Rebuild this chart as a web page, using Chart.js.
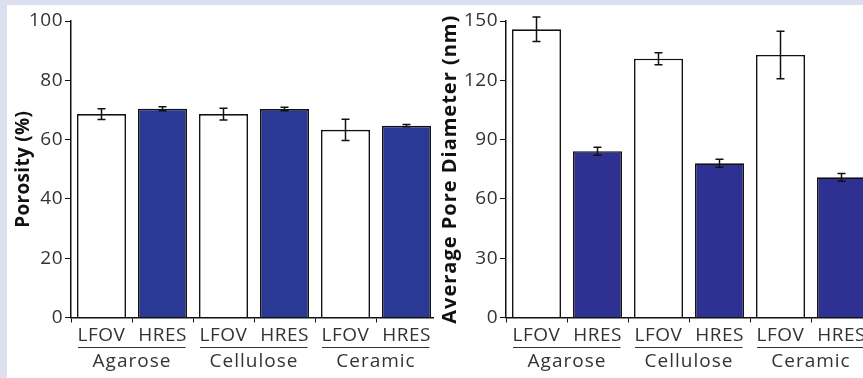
<!DOCTYPE html>
<html>
<head>
<meta charset="utf-8">
<script src="https://cdn.jsdelivr.net/npm/chart.js@4.4.0/dist/chart.umd.min.js"></script>
<style>
  html, body { margin: 0; padding: 0; }
  body { width: 863px; height: 378px; background: #dcdff0; position: relative; overflow: hidden; }
  #sheet { position: absolute; left: 7px; top: 5px; width: 856px; height: 373px; background: #fff; }
  .panel { position: absolute; top: 0; height: 378px; overflow: hidden; }
  .panel canvas { position: absolute; left: 0; top: 0; }
</style>
</head>
<body>
<div id="sheet"></div>
<div class="panel" style="left:0;width:434px"><canvas id="porosityChart" width="440" height="378"></canvas></div>
<div class="panel" style="left:435px;width:428px"><canvas id="diameterChart" width="440" height="378"></canvas></div>
<script>
const labels = ['LFOV', 'HRES', 'LFOV', 'HRES', 'LFOV', 'HRES'];
const groups = ['Agarose', 'Cellulose', 'Ceramic'];

const porosity = [68.6, 70.4, 68.6, 70.3, 63.3, 64.7];
const porosityErr = [1.8, 0.7, 2.0, 0.6, 3.6, 0.4];

const diameter = [145.8, 84.1, 130.9, 78.0, 132.8, 70.9];
const diameterErr = [6.2, 2.0, 3.0, 2.0, 12.0, 2.0];

const fontFamily = '"Open Sans", sans-serif';

// error bars, group underlines and axis title drawn on top of the bars
const extras = {
    id: 'extras',
    beforeDraw(chart) {
        // the original font is a bit wider, space the tick labels a little
        chart.ctx.letterSpacing = '0.5px';
    },
    afterDatasetsDraw(chart, args, opts) {
        const ctx = chart.ctx;
        const x = chart.scales.x;
        const y = chart.scales.y;
        ctx.save();

        // error bars
        ctx.strokeStyle = '#111';
        ctx.lineWidth = 1.5;
        opts.errors.forEach((err, i) => {
            const cx = x.getPixelForValue(i);
            const v = chart.data.datasets[0].data[i];
            const top = y.getPixelForValue(v + err);
            const bot = y.getPixelForValue(v - err);
            ctx.beginPath();
            ctx.moveTo(cx, top); ctx.lineTo(cx, bot);
            ctx.moveTo(cx - 4, top); ctx.lineTo(cx + 4, top);
            ctx.moveTo(cx - 4, bot); ctx.lineTo(cx + 4, bot);
            ctx.stroke();
        });

        // group lines and names
        ctx.strokeStyle = '#333';
        ctx.lineWidth = 1;
        ctx.fillStyle = '#333';
        ctx.font = '19px ' + fontFamily;
        ctx.letterSpacing = '1px';
        ctx.textAlign = 'center';
        ctx.textBaseline = 'middle';
        groups.forEach((g, k) => {
            const x1 = x.getPixelForValue(k * 2);
            const x2 = x.getPixelForValue(k * 2 + 1);
            ctx.beginPath();
            ctx.moveTo(x1 - 23.5, 347.5);
            ctx.lineTo(x2 + 23, 347.5);
            ctx.stroke();
            ctx.fillText(g, (x1 + x2) / 2, 362);
        });

        // y axis title
        ctx.fillStyle = '#111';
        ctx.font = 'bold ' + opts.titleSize + 'px ' + fontFamily;
        ctx.letterSpacing = opts.titleSpacing;
        ctx.translate(opts.titleX, (chart.chartArea.top + chart.chartArea.bottom) / 2);
        ctx.rotate(-Math.PI / 2);
        ctx.fillText(opts.title, 0, 0);
        ctx.restore();
    }
};

function makeChart(id, values, errors, blue, maxY, step, title, titleX, titleSize, titleSpacing) {
    const ctx = document.getElementById(id).getContext('2d');
    return new Chart(ctx, {
        type: 'bar',
        data: {
            labels: labels,
            datasets: [{
                data: values,
                backgroundColor: values.map((v, i) => i % 2 === 0 ? '#ffffff' : blue),
                borderColor: '#111',
                borderWidth: 1.6,
                categoryPercentage: 1,
                barPercentage: 0.803
            }]
        },
        options: {
            responsive: false,
            animation: false,
            layout: { padding: { top: 21, right: 3, left: 0, bottom: 0 } },
            scales: {
                x: {
                    afterFit: s => { s.height = 60.5; },
                    grid: { display: true, drawOnChartArea: false, drawTicks: true, tickLength: 5, color: '#111' },
                    border: { display: true, color: '#111', width: 1.5 },
                    ticks: { color: '#333', font: { family: fontFamily, size: 19 }, padding: 2, maxRotation: 0, autoSkip: false }
                },
                y: {
                    min: 0,
                    max: maxY,
                    afterFit: s => { s.width = 71; },
                    grid: { display: true, drawOnChartArea: false, drawTicks: true, tickLength: 6, color: '#111' },
                    border: { display: true, color: '#111', width: 1.5 },
                    ticks: { stepSize: step, color: '#333', font: { family: fontFamily, size: 19 }, padding: 2 }
                }
            },
            plugins: {
                legend: { display: false },
                tooltip: { enabled: false },
                extras: { errors: errors, title: title, titleX: titleX, titleSize: titleSize, titleSpacing: titleSpacing }
            }
        },
        plugins: [extras]
    });
}

makeChart('porosityChart', porosity, porosityErr, '#2a3a94', 100, 20, 'Porosity (%)', 24, 19, '0.3px');
makeChart('diameterChart', diameter, diameterErr, '#2e3192', 150, 30, 'Average Pore Diameter (nm)', 15, 20, '1px');
</script>
</body>
</html>
